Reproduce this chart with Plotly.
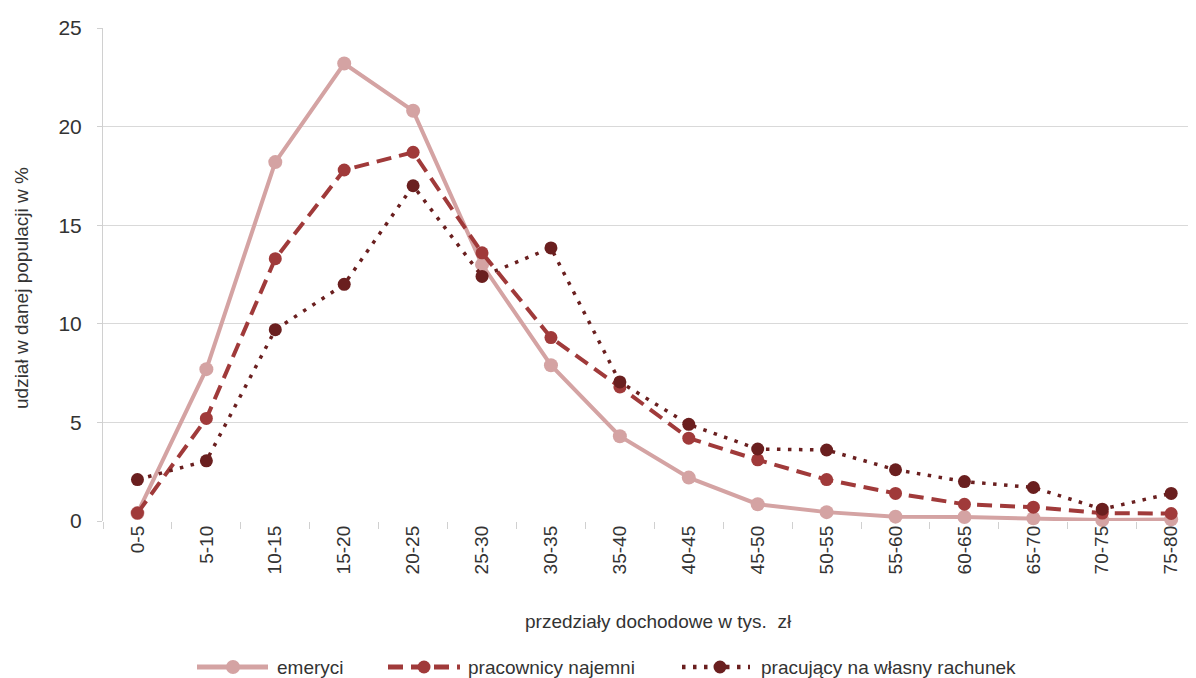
import plotly.graph_objects as go

categories = ["0-5", "5-10", "10-15", "15-20", "20-25", "25-30", "30-35", "35-40",
              "40-45", "45-50", "50-55", "55-60", "60-65", "65-70", "70-75", "75-80"]
emeryci = [0.4, 7.7, 18.2, 23.2, 20.8, 13.0, 7.9, 4.3, 2.2, 0.85, 0.45, 0.22, 0.2, 0.14, 0.05, 0.08]
pracownicy = [0.4, 5.2, 13.3, 17.8, 18.7, 13.6, 9.3, 6.8, 4.2, 3.1, 2.1, 1.4, 0.85, 0.7, 0.4, 0.38]
pracujacy = [2.1, 3.05, 9.7, 12.0, 17.0, 12.4, 13.85, 7.05, 4.9, 3.65, 3.6, 2.6, 2.0, 1.7, 0.6, 1.4]

names = ["emeryci", "pracownicy najemni", "pracujący na własny rachunek"]
colors = ["#D4A3A3", "#A03A3A", "#6A1F1F"]
dashes = ["solid", "15px,8px", "3.5px,7.5px"]
widths = [4, 4, 3.5]
msizes = [14, 13, 13]
series = [emeryci, pracownicy, pracujacy]

FONT = "Liberation Sans Narrow, Arial Narrow, Liberation Sans, Arial, sans-serif"
TXT = "#333333"

fig = go.Figure()
for nm, col, ds, w, ms, ys in zip(names, colors, dashes, widths, msizes, series):
    fig.add_trace(go.Scatter(x=categories, y=ys, name=nm, mode="lines+markers",
                             line=dict(color=col, width=w, dash=ds),
                             marker=dict(symbol="circle", size=ms, color=col),
                             cliponaxis=False, showlegend=False))

# page layout (figure sits at an 8px body offset in the page)
W, H = 1188, 670
L, T, B = 95, 20, 157
PX0, PW = 103, 1093      # plot area left / width in page pixels
PY0, PH = 521, 493       # plot area bottom / height in page pixels

def px(X):
    return (X - PX0) / PW

def py(Y):
    return (PY0 - Y) / PH

# manual legend
leg_y = py(667)
leg_items = [(197, 268, 233, 275), (388, 460, 424, 466), (682, 750, 720, 759)]
for (x0, x1, xm, xt), nm, col, ds, w, ms in zip(leg_items, names, colors, dashes, widths, msizes):
    fig.add_shape(type="line", xref="paper", yref="paper", x0=px(x0), x1=px(x1),
                  y0=leg_y, y1=leg_y, line=dict(color=col, width=w + 1, dash=ds))
    fig.add_shape(type="circle", xref="paper", yref="paper", xsizemode="pixel", ysizemode="pixel",
                  xanchor=px(xm), yanchor=leg_y, x0=-ms / 2, x1=ms / 2, y0=-ms / 2, y1=ms / 2,
                  fillcolor=col, line=dict(color=col, width=0))
    fig.add_annotation(text=nm, xref="paper", yref="paper", x=px(xt), y=leg_y,
                       xanchor="left", yanchor="middle", showarrow=False,
                       font=dict(size=19, family=FONT, color=TXT))

fig.update_layout(
    width=W, height=H,
    margin=dict(l=L, r=0, t=T, b=B),
    plot_bgcolor="white", paper_bgcolor="white",
    font=dict(family=FONT, color=TXT, size=16),
    showlegend=False,
    xaxis=dict(type="category", range=[-0.5, 15.36], tickson="boundaries",
               ticks="outside", ticklen=7, tickcolor="#d0d0d0", tickwidth=1,
               showline=False, showgrid=False,
               tickangle=-90, tickfont=dict(size=19, family=FONT, color=TXT)),
    yaxis=dict(range=[0, 25], tickvals=[0, 5, 10, 15, 20, 25],
               showgrid=True, gridcolor="#d9d9d9", gridwidth=1,
               showline=True, linecolor="#d0d0d0", linewidth=1,
               ticks="outside", ticklen=5, tickcolor="#d0d0d0",
               ticklabelstandoff=11,
               tickfont=dict(size=21, family=FONT, color=TXT),
               zeroline=False),
)

fig.add_annotation(text="udział w danej populacji w %", xref="paper", yref="paper",
                   x=px(21), y=py(288), xanchor="center", yanchor="middle", textangle=-90,
                   showarrow=False, font=dict(size=19, family=FONT, color=TXT))
fig.add_annotation(text="przedziały dochodowe w tys.  zł", xref="paper", yref="paper",
                   x=px(659), y=py(621), xanchor="center", yanchor="middle", showarrow=False,
                   font=dict(size=19, family=FONT, color=TXT))

fig.write_html("out.html")
